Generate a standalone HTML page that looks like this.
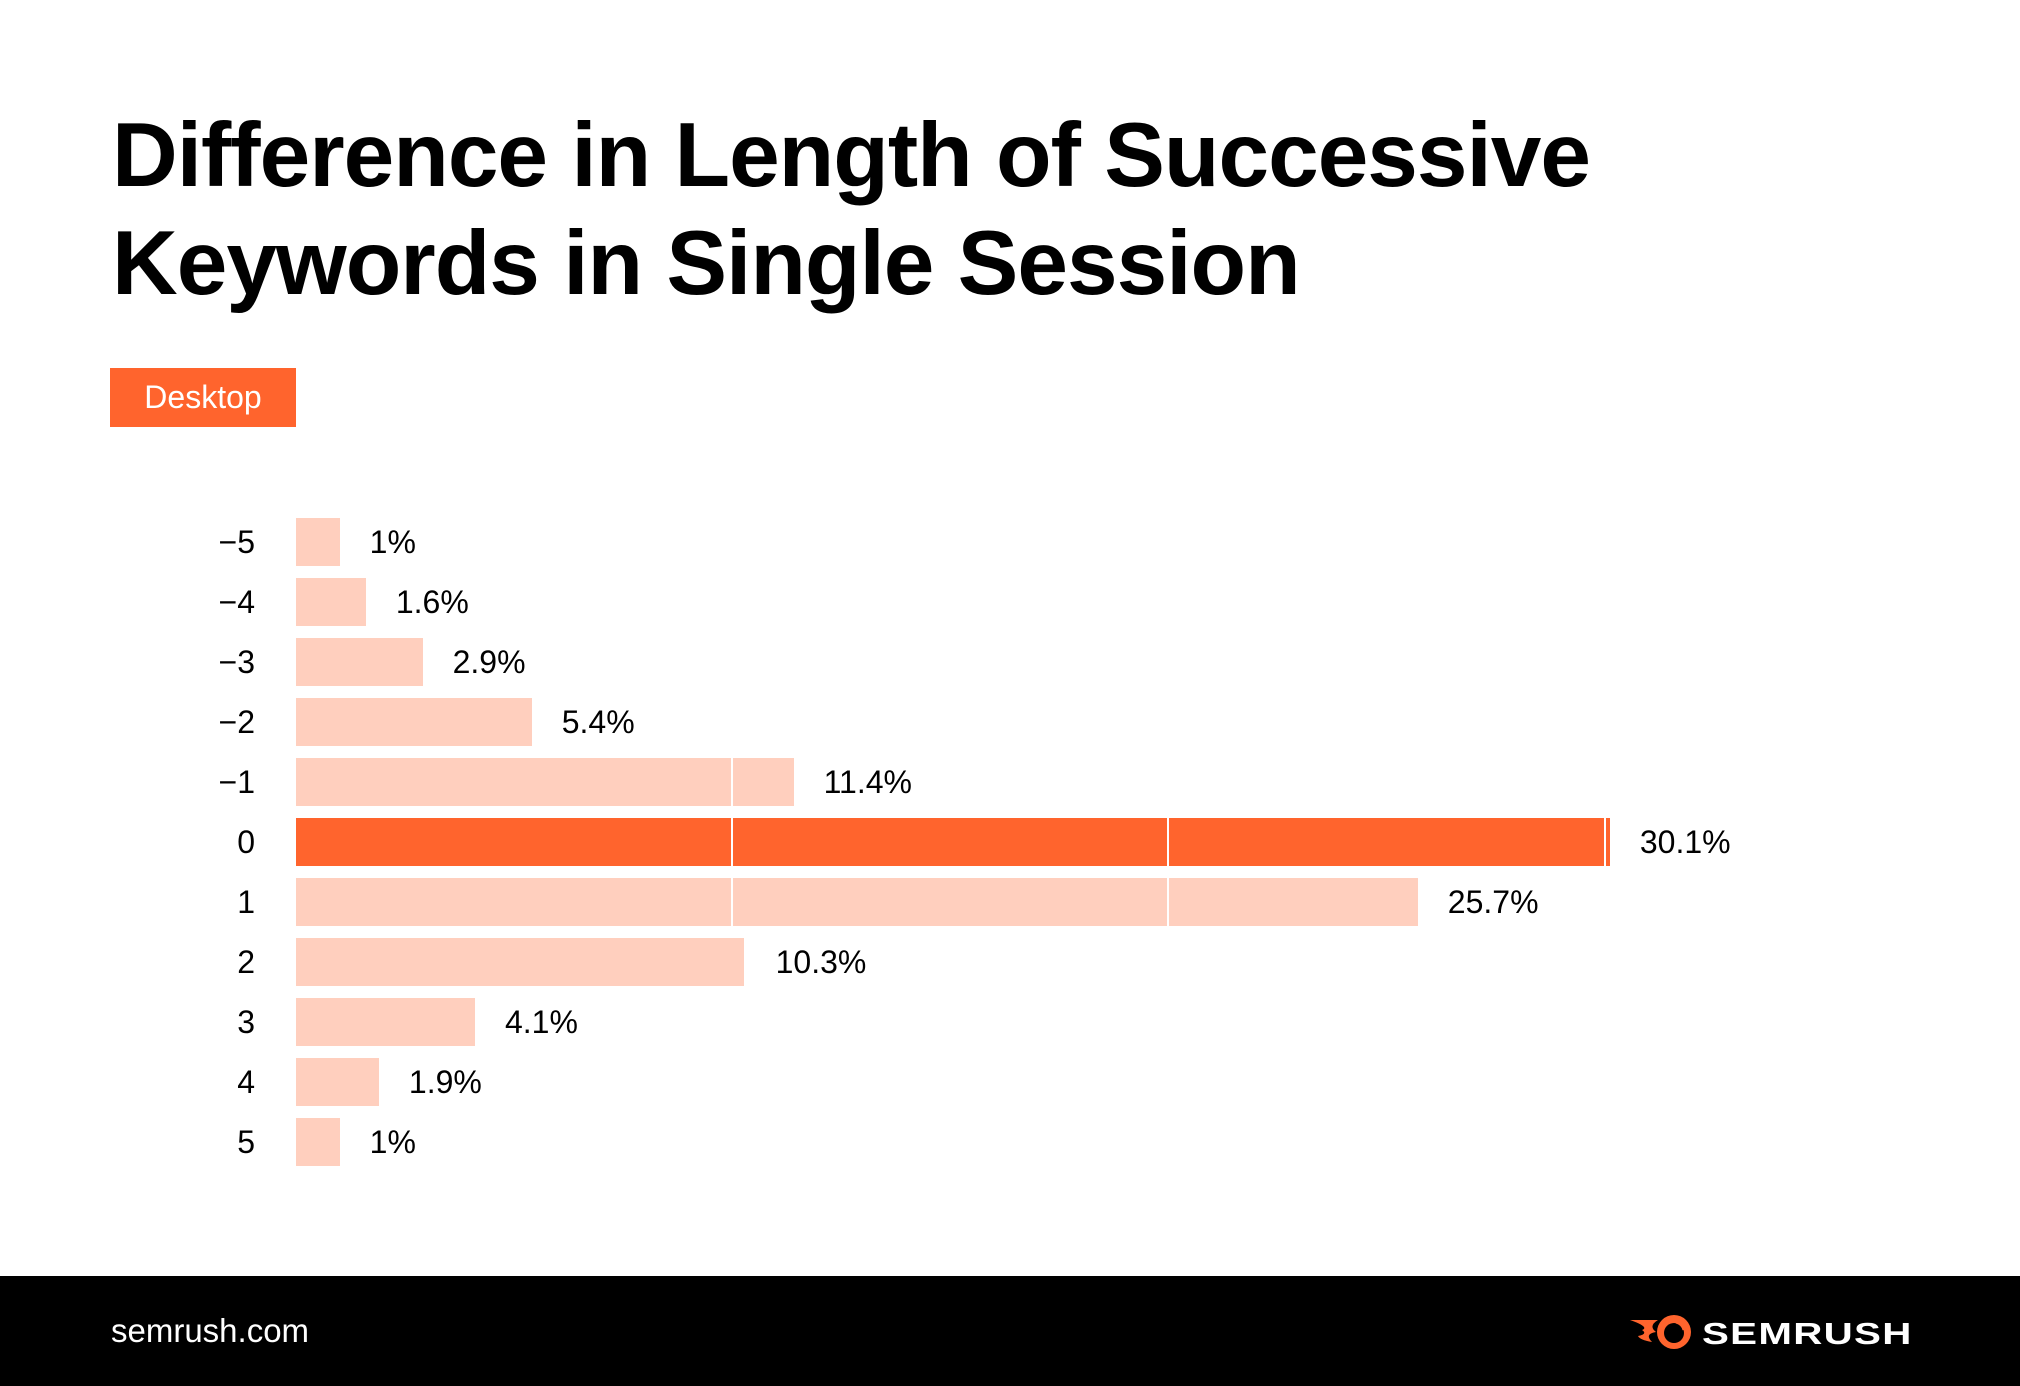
<!DOCTYPE html>
<html><head><meta charset="utf-8"><style>
body{margin:0;width:2020px;height:1386px;background:#fff;position:relative;overflow:hidden;font-family:"Liberation Sans",sans-serif;}
.t{position:absolute;left:112px;font-size:91px;font-weight:bold;color:#000;letter-spacing:-1px;white-space:nowrap;line-height:1}
.badge{position:absolute;left:110px;top:368px;width:186px;height:59px;background:#ff642d;color:#fff;font-size:32px;line-height:59px;text-align:center}
.lab{position:absolute;right:1765px;font-size:32px;color:#000;line-height:48px}
.bar{position:absolute;left:296px;height:48px}
.val{position:absolute;font-size:32px;color:#000;line-height:48px;white-space:nowrap}
.g{position:absolute;width:2px;background:#fff}
.foot{position:absolute;left:0;top:1276px;width:2020px;height:110px;background:#000}
</style></head><body>
<div class="t" style="top:110px">Difference in Length of Successive</div>
<div class="t" style="top:218px">Keywords in Single Session</div>
<div class="badge">Desktop</div>
<div id="c"></div>
<div class="foot">
<div style="position:absolute;left:111px;top:36px;font-size:33px;color:#fff">semrush.com</div>
<svg style="position:absolute;left:1628px;top:36px" width="68" height="40" viewBox="0 0 68 40">
<path d="M2 8 L30 8 Q20 14 28 20 Q16 22 24 30 Q12 28 10 24 Q20 22 14 18 Q22 15 2 8Z" fill="#ff642d"/>
<circle cx="46" cy="20" r="17" fill="#ff642d"/>
<circle cx="46" cy="21" r="10" fill="#000"/>
<path d="M48 10 A10 10 0 0 1 56 18" stroke="#ff642d" stroke-width="3" fill="none"/>
</svg>
<div style="position:absolute;left:1702px;top:40px;font-size:31px;font-weight:bold;color:#fff;transform:scaleX(1.3);transform-origin:left;letter-spacing:1px">SEMRUSH</div>
</div>
<script>
var d=[["−5",1,"1%"],["−4",1.6,"1.6%"],["−3",2.9,"2.9%"],["−2",5.4,"5.4%"],["−1",11.4,"11.4%"],["0",30.1,"30.1%"],["1",25.7,"25.7%"],["2",10.3,"10.3%"],["3",4.1,"4.1%"],["4",1.9,"1.9%"],["5",1,"1%"]];
var h="";
d.forEach(function(r,i){var top=518+i*60;var w=r[1]*43.65;
h+='<div class="lab" style="top:'+top+'px">'+r[0]+'</div>';
h+='<div class="bar" style="top:'+top+'px;width:'+w+'px;background:'+(i==5?'#ff642d':'#ffcfbe')+'"></div>';
h+='<div class="val" style="top:'+top+'px;left:'+(296+w+30)+'px">'+r[2]+'</div>';});
h+='<div class="g" style="left:731px;top:758px;height:168px"></div>';
h+='<div class="g" style="left:1167px;top:818px;height:108px"></div>';
h+='<div class="g" style="left:1604px;top:818px;height:48px"></div>';
h+='<div class="g" style="left:744px;top:938px;height:48px"></div>';
document.getElementById("c").innerHTML=h;
</script>
</body></html>
